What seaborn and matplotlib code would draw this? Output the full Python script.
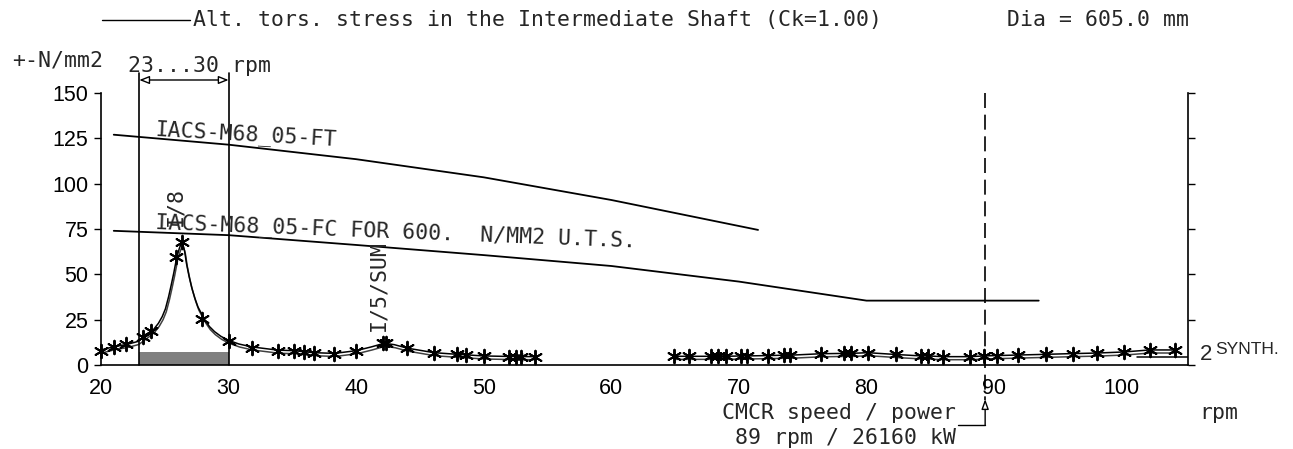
import numpy as np
import pandas as pd
import matplotlib
matplotlib.use("Agg")
import matplotlib.pyplot as plt
import matplotlib.patheffects as pe
from matplotlib.lines import Line2D
import seaborn as sns

# ---------------- data ----------------
# synthesis curve (line), low speed range
curve1_rpm = [20.0, 21.0, 22.0, 22.9, 23.4, 24.1, 24.5, 24.8, 25.05, 25.3, 25.5, 25.7, 25.95,
              26.15, 26.35, 26.55, 26.7, 26.9, 27.1, 27.35, 27.6, 27.9, 28.15, 28.5, 28.9,
              29.4, 30.0, 30.8, 31.8, 33.85, 35.15, 35.9, 36.7, 38.3, 40.0,
              41.2, 42.2, 43.0, 44.0, 46.1, 47.9, 50.0, 52.0, 54.0]
curve1_val = [8.3, 10.1, 11.3, 13.0, 15.6, 19.4, 23.0, 26.7, 31.0, 37.7, 44.0, 50.6, 59.8,
              64.5, 68.0, 63.0, 56.0, 49.0, 43.0, 37.0, 32.0, 28.0, 24.8, 21.2, 18.4,
              15.8, 13.6, 11.6, 10.0, 8.2, 7.9, 7.3, 6.8, 6.4, 7.9,
              10.0, 12.0, 11.2, 9.3, 6.8, 5.9, 5.0, 4.7, 4.6]
# calculated points (stars), low speed range
star1_rpm = [20.0, 21.0, 21.96, 23.3, 23.9, 25.9, 26.35, 27.9, 30.0, 31.8, 33.85, 35.15,
             35.9, 36.7, 38.3, 40.0, 42.1, 42.3, 44.0, 46.1, 47.9, 48.6, 50.0, 52.0,
             52.5, 52.9, 54.0]
star1_val = [7.9, 10.2, 11.5, 15.7, 19.0, 59.8, 68.0, 25.5, 13.0, 9.3, 7.9, 7.9,
             7.2, 6.7, 6.3, 7.9, 11.9, 11.9, 9.3, 6.7, 5.9, 5.5, 5.0, 4.6,
             4.6, 4.6, 4.6]
# high speed range (line through stars)
star2_rpm = [64.9, 66.1, 67.8, 68.4, 69.0, 70.2, 70.6, 72.3, 73.5, 74.0, 76.4, 78.2,
             78.8, 80.1, 82.3, 84.3, 84.8, 86.0, 88.1, 89.2, 90.2, 91.9, 94.1, 96.2,
             98.1, 100.2, 102.2, 104.2]
star2_val = [4.8, 4.8, 4.8, 4.8, 4.8, 5.0, 5.0, 5.2, 5.4, 5.4, 6.2, 6.4,
             6.4, 6.8, 5.8, 5.0, 5.0, 4.6, 4.6, 5.0, 5.2, 5.5, 5.9, 6.3,
             6.6, 7.2, 8.3, 8.3]
# order 2 tail
order2_rpm = [101.2, 105.2]
order2_val = [4.6, 4.6]

# limit curves
ft_rpm = [21.0, 30.0, 40.0, 50.0, 60.0, 71.5]
ft_val = [127.0, 121.5, 113.5, 103.5, 91.0, 74.5]
fc_rpm = [21.0, 30.0, 40.0, 50.0, 60.0, 70.0, 80.0, 93.5]
fc_val = [74.0, 71.6, 66.2, 60.6, 54.6, 46.0, 35.5, 35.5]

barred_range = [23.0, 30.0]
barred_height = 7.2
cmcr_rpm = 89.3

x_ticks = [20, 30, 40, 50, 60, 70, 80, 90, 100]
y_ticks = [0, 25, 50, 75, 100, 125, 150]

# ---------------- style ----------------
sns.set_theme(style="white")
plt.rcParams["font.family"] = ["Liberation Sans", "DejaVu Sans"]
MONO = "DejaVu Sans Mono"
FS = 15.5

W, H = 1293, 449
fig = plt.figure(figsize=(W / 100, H / 100), dpi=100)
ax = fig.add_axes([101 / W, 1 - 365 / H, (1188 - 101) / W, (365 - 93) / H])
ax.set_xlim(20, 105.2)
ax.set_ylim(0, 150)

def px2x(px):
    return 20 + (px - 101) / (1087 / 85.2)

def px2y(py):
    return (365 - py) / (272 / 150)

# limit lines
sns.lineplot(x=ft_rpm, y=ft_val, ax=ax, color="black", lw=1.3, sort=False, estimator=None)
sns.lineplot(x=fc_rpm, y=fc_val, ax=ax, color="black", lw=1.3, sort=False, estimator=None)

# barred speed range
ax.bar(barred_range[0], barred_height, width=barred_range[1] - barred_range[0],
       align="edge", color="#808080", edgecolor="none", zorder=2)

shadow = [pe.SimpleLineShadow(offset=(0.6, -2.2), shadow_color="black", alpha=0.75), pe.Normal()]

for xs, ys in [(curve1_rpm, curve1_val), (star2_rpm, star2_val)]:
    df = pd.DataFrame({"rpm": xs, "val": ys})
    sns.lineplot(data=df, x="rpm", y="val", ax=ax, color="black", lw=1.1,
                 sort=False, estimator=None)
    ax.lines[-1].set_path_effects(shadow)
    ax.lines[-1].set_clip_on(False)

sns.lineplot(x=order2_rpm, y=order2_val, ax=ax, color="black", lw=1.1, sort=False, estimator=None)

stars = pd.DataFrame({"rpm": star1_rpm + star2_rpm, "val": star1_val + star2_val})
sns.scatterplot(data=stars, x="rpm", y="val", ax=ax, marker=(6, 2, 0), s=95,
                color="black", linewidth=1.4, clip_on=False, zorder=4)

# barred range dimension
for r in barred_range:
    ax.plot([r, r], [0, px2y(73)], color="black", lw=1.2, clip_on=False)
ax.annotate("", xy=(barred_range[0], px2y(80)), xytext=(barred_range[1], px2y(80)),
            arrowprops=dict(arrowstyle="<|-|>,head_length=0.5,head_width=0.2",
                            fc="white", ec="black", lw=1.0, shrinkA=0, shrinkB=0),
            annotation_clip=False)
ax.text(px2x(128), px2y(66), "23...30 rpm", family=MONO, fontsize=FS, ha="left", va="center")

# CMCR line
ax.plot([cmcr_rpm, cmcr_rpm], [150, px2y(400)], color="black", lw=1.2,
        ls=(0, (9, 4)), clip_on=False)
ax.plot([px2x(958), cmcr_rpm], [px2y(425), px2y(425)], color="black", lw=1.0, clip_on=False)
ax.annotate("", xy=(cmcr_rpm, px2y(399)), xytext=(cmcr_rpm, px2y(425)),
            arrowprops=dict(arrowstyle="-|>,head_length=0.5,head_width=0.18",
                            fc="white", ec="black", lw=1.0, shrinkA=0, shrinkB=0),
            annotation_clip=False)
ax.text(px2x(956), px2y(413), "CMCR speed / power", family=MONO, fontsize=FS, ha="right", va="center")
ax.text(px2x(956), px2y(438), "89 rpm / 26160 kW", family=MONO, fontsize=FS, ha="right", va="center")
ax.text(px2x(1199), px2y(413), "rpm", family=MONO, fontsize=FS, ha="left", va="center")

# curve labels
ax.text(px2x(155), px2y(135), "IACS-M68_05-FT", family=MONO, fontsize=FS,
        rotation=-3.2, rotation_mode="anchor", ha="left", va="baseline")
ax.text(px2x(155), px2y(228), "IACS-M68_05-FC FOR 600.  N/MM2 U.T.S.", family=MONO, fontsize=FS,
        rotation=-2.2, rotation_mode="anchor", ha="left", va="baseline")
ax.text(px2x(175), px2y(226), "I/8", family=MONO, fontsize=FS, rotation=90,
        ha="center", va="bottom")
ax.text(px2x(378), px2y(331), "I/5/SUM", family=MONO, fontsize=FS, rotation=90,
        ha="center", va="bottom")

# axes styling
ax.set_xticks(x_ticks)
ax.set_xticklabels([str(t) for t in x_ticks])
ax.set_yticks(y_ticks)
ax.set_yticklabels([str(t) for t in y_ticks])
ax.tick_params(axis="both", labelsize=15.5, colors="black", direction="out", width=1.0)
ax.tick_params(axis="x", length=6, pad=3)
ax.tick_params(axis="y", length=5, left=True, right=True, labelright=False, pad=4)
ax.set_xlabel("")
ax.set_ylabel("")
for s in ["left", "right", "bottom"]:
    ax.spines[s].set_visible(True)
    ax.spines[s].set_color("black")
    ax.spines[s].set_linewidth(1.2)
ax.spines["top"].set_visible(False)
ax.grid(False)

# header and other texts
fig.add_artist(Line2D([102 / W, 190 / W], [1 - 20 / H, 1 - 20 / H], color="black", lw=1.0))
fig.text(193 / W, 1 - 20 / H, "Alt. tors. stress in the Intermediate Shaft (Ck=1.00)",
         family=MONO, fontsize=FS, ha="left", va="center")
fig.text(1007 / W, 1 - 20 / H, "Dia = 605.0 mm", family=MONO, fontsize=FS, ha="left", va="center")
fig.text(12 / W, 1 - 60 / H, "+-N/mm2", family=MONO, fontsize=FS, ha="left", va="center")
fig.text(1200 / W, 1 - 355 / H, "2", fontsize=16, ha="left", va="center")
fig.text(1215 / W, 1 - 349 / H, "SYNTH.", fontsize=12.5, ha="left", va="center")

fig.savefig("out.png", dpi=100, facecolor="white")
